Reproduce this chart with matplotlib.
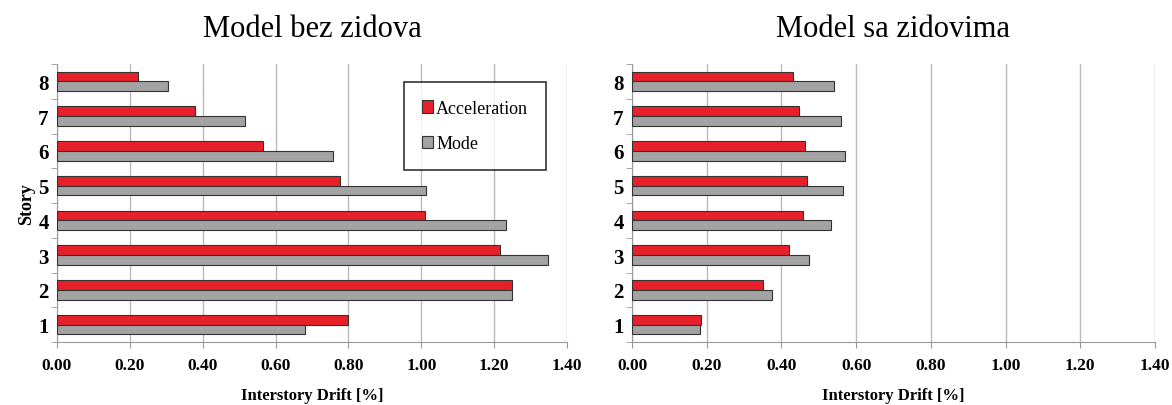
import numpy as np
import matplotlib.pyplot as plt
from matplotlib.ticker import FixedLocator

stories = [1, 2, 3, 4, 5, 6, 7, 8]
x_ticks = [0.0, 0.2, 0.4, 0.6, 0.8, 1.0, 1.2, 1.4]

# Model bez zidova
acc_bez = [0.80, 1.25, 1.215, 1.01, 0.776, 0.566, 0.378, 0.221]
mode_bez = [0.682, 1.248, 1.347, 1.232, 1.012, 0.759, 0.516, 0.305]

# Model sa zidovima
acc_sa = [0.186, 0.351, 0.421, 0.458, 0.468, 0.462, 0.448, 0.430]
mode_sa = [0.183, 0.375, 0.474, 0.534, 0.565, 0.571, 0.560, 0.540]

titles = ['Model bez zidova', 'Model sa zidovima']

plt.rcParams['font.family'] = ['Liberation Serif', 'DejaVu Serif']

fig = plt.figure(figsize=(11.72, 4.06), dpi=100)
W, H = 1172, 406
axes = [fig.add_axes([57 / W, 1 - 343 / H, 510 / W, 278 / H]),
        fig.add_axes([632 / W, 1 - 343 / H, 523 / W, 278 / H])]

red = '#e8202a'
gray = '#a3a3a3'
h = 0.28
y = np.array(stories)

for ax, acc, mode, title in zip(axes, [acc_bez, acc_sa], [mode_bez, mode_sa], titles):
    ax.barh(y + h / 2, acc, height=h, color=red, edgecolor='#333333', linewidth=0.8,
            label='Acceleration', zorder=3)
    ax.barh(y - h / 2, mode, height=h, color=gray, edgecolor='#333333', linewidth=0.8,
            label='Mode', zorder=3)
    ax.set_xlim(0, 1.4)
    ax.set_ylim(0.5, 8.5)
    ax.set_xticks(x_ticks)
    ax.set_xticklabels(['%.2f' % v for v in x_ticks], fontsize=12.5, fontweight='bold')
    ax.set_yticks(stories)
    ax.set_yticklabels([str(s) for s in stories], fontsize=15, fontweight='bold')
    ax.yaxis.set_minor_locator(FixedLocator(np.arange(0.5, 9, 1)))
    ax.tick_params(axis='y', which='major', length=0, pad=6)
    ax.tick_params(axis='y', which='minor', length=4, color='#999999')
    ax.tick_params(axis='x', length=4, color='#999999', pad=7)
    ax.grid(axis='x', color='#bbbbbb', linewidth=1, zorder=0)
    for s in ['top', 'right']:
        ax.spines[s].set_visible(False)
    for s in ['left', 'bottom']:
        ax.spines[s].set_color('#999999')
    ax.set_xlabel('Interstory Drift [%]', fontsize=12, fontweight='bold', labelpad=10)
    ax.set_title(title, fontsize=22, pad=20)

axes[0].set_ylabel('Story', fontsize=13, fontweight='bold', labelpad=2)
leg = axes[0].legend(loc='upper left', bbox_to_anchor=(0.68, 0.935),
                     prop={'family': 'Liberation Serif', 'size': 13},
                     frameon=True, fancybox=False, edgecolor='black', handlelength=0.6,
                     handleheight=0.7, handletextpad=0.2, labelspacing=1.0,
                     borderpad=1.0, borderaxespad=0)
leg.get_frame().set_linewidth(1.2)
leg.set_zorder(5)

fig.savefig('out.png', dpi=100)
